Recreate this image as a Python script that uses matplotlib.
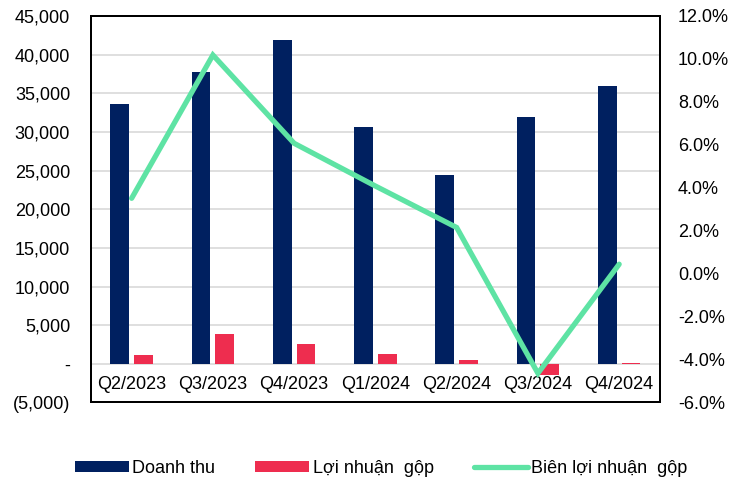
import matplotlib
matplotlib.use("Agg")
import matplotlib.pyplot as plt
from matplotlib.ticker import FuncFormatter, MultipleLocator
from matplotlib.transforms import offset_copy
from matplotlib.patches import Patch
from matplotlib.lines import Line2D

plt.rcParams['font.family'] = ['Liberation Sans', 'DejaVu Sans']

categories = ["Q2/2023", "Q3/2023", "Q4/2023", "Q1/2024", "Q2/2024", "Q3/2024", "Q4/2024"]
revenue = [33600, 37800, 41900, 30600, 24400, 31900, 35900]
gross_profit = [1180, 3850, 2540, 1250, 520, -1480, 160]
gross_margin = [3.51, 10.18, 6.07, 4.08, 2.15, -4.64, 0.44]

series_names = ["Doanh thu", "Lợi nhuận  gộp", "Biên lợi nhuận  gộp"]

navy = "#002060"
red = "#EE2D4F"
green = "#5EE3A4"

fig = plt.figure(figsize=(7.43, 4.84), dpi=100)
ax = fig.add_axes([0.1225, 0.1684, 0.888 - 0.1225, 0.967 - 0.1684])
ax2 = ax.twinx()

x = list(range(len(categories)))
w = 0.23
off = 0.146
ax.bar([i - off for i in x], revenue, width=w, color=navy, zorder=3)
ax.bar([i + off for i in x], gross_profit, width=w, color=red, zorder=3)

ax.set_xlim(-0.5, len(categories) - 0.5)
ax.set_ylim(-5000, 45000)
ax.yaxis.set_major_locator(MultipleLocator(5000))

def left_fmt(v, pos):
    if abs(v) < 1e-9:
        return "-"
    if v < 0:
        return "({:,.0f})".format(-v)
    return "{:,.0f}".format(v)

ax.yaxis.set_major_formatter(FuncFormatter(left_fmt))
ax.grid(axis='y', color="#D9D9D9", linewidth=1.2, zorder=0)
ax.set_axisbelow(True)
ax.set_xticks([])
ax.tick_params(axis='y', length=0, pad=15, labelsize=13)

ax2.plot(x, gross_margin, color=green, linewidth=3.8, solid_capstyle='round',
         solid_joinstyle='miter', zorder=5)
ax2.set_ylim(-6, 12)
ax2.yaxis.set_major_locator(MultipleLocator(2))
ax2.yaxis.set_major_formatter(FuncFormatter(lambda v, p: "{:.1f}%".format(v)))
ax2.tick_params(axis='y', length=0, pad=13, labelsize=13)

for a in (ax, ax2):
    for s in a.spines.values():
        s.set_color("black")
        s.set_linewidth(1.4)

trans = offset_copy(ax.transData, fig=fig, x=0, y=-21, units='dots')
for i, c in enumerate(categories):
    ax.text(i, 0, c, transform=trans, ha='center', va='center', fontsize=13, zorder=6)

handles = [Patch(facecolor=navy), Patch(facecolor=red),
           Line2D([0], [0], color=green, linewidth=3.8, solid_capstyle='round')]
fig.legend(handles, series_names, loc='center', bbox_to_anchor=(0.513, 0.033), ncol=3,
           frameon=False, fontsize=13, handlelength=3.0, handleheight=0.55,
           handletextpad=0.2, columnspacing=2.2)

fig.savefig("out.png", dpi=100)
